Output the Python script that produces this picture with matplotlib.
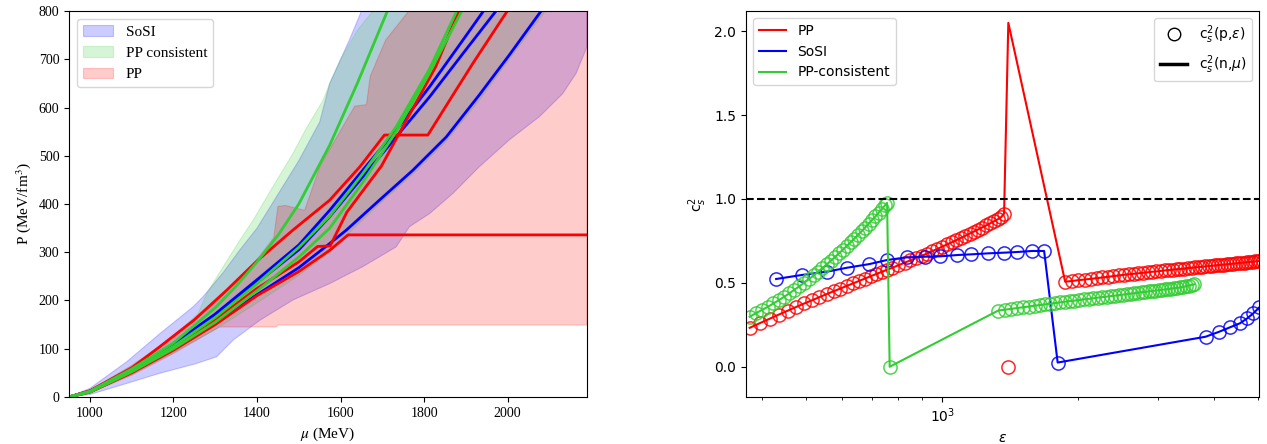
import matplotlib
matplotlib.use("Agg")
import matplotlib.pyplot as plt
import numpy as np

# ---- left panel: P(mu) bands -------------------------------------------
sosi_lo_mu = [950, 1000, 1088, 1167, 1250, 1303, 1343, 1407, 1486, 1574, 1653, 1733, 1765,
              1813, 1869, 1932, 2004, 2076, 2132, 2164, 2190]
sosi_lo_p = [0, 5, 28, 49, 68, 83, 118, 159, 201, 235, 270, 311, 353, 380, 422, 477, 533,
             581, 629, 671, 726]
sosi_hi_mu = [950, 1000, 1088, 1167, 1247, 1271, 1319, 1359, 1400, 1450, 1500, 1550, 1574,
              1621, 1650, 1700, 2190]
sosi_hi_p = [0, 18, 73, 131, 187, 208, 258, 305, 350, 420, 490, 570, 650, 740, 800, 900, 1000]

ppc_lo_mu = [950, 1000, 1100, 1200, 1300, 1400, 1500, 1574, 1614, 1693, 1773, 1853, 1932,
             2004, 2090, 2190]
ppc_lo_p = [0, 9, 47, 92, 140, 195, 252, 300, 335, 400, 462, 530, 615, 700, 800, 920]
ppc_hi_mu = [950, 1000, 1100, 1200, 1259, 1280, 1319, 1359, 1391, 1438, 1486, 1518, 1558,
             1574, 1600, 1640, 1677, 1700, 2190]
ppc_hi_p = [0, 14, 65, 125, 173, 215, 270, 325, 367, 436, 505, 557, 615, 650, 700, 760, 800,
            850, 1000]

pp_lo_mu = [950, 1000, 1100, 1200, 1300, 1311, 1446, 1450, 2190]
pp_lo_p = [0, 9, 45, 90, 140, 145, 145, 149, 149]
pp_hi_mu = [950, 1000, 1100, 1200, 1300, 1400, 1440, 1450, 1468, 1514, 1551, 1597, 1634,
            1662, 1671, 1708, 1763, 1800, 2190]
pp_hi_p = [0, 14, 65, 125, 195, 285, 330, 395, 397, 387, 479, 548, 603, 606, 665, 740, 800,
           850, 1000]

# ---- left panel: individual EoS curves ---------------------------------
sosi_curves = [
    ([950, 1000, 1100, 1200, 1300, 1400, 1500, 1574, 1653, 1733, 1813, 1893, 1942],
     [0, 12, 56, 110, 172, 243, 315, 387, 470, 553, 643, 740, 800]),
    ([950, 1000, 1100, 1200, 1300, 1400, 1500, 1574, 1653, 1733, 1813, 1893, 1972],
     [0, 12, 55, 107, 168, 237, 305, 374, 456, 539, 622, 712, 800]),
    ([950, 1000, 1100, 1200, 1300, 1400, 1500, 1574, 1614, 1693, 1773, 1853, 1932, 2004, 2080],
     [0, 11, 52, 100, 155, 212, 268, 318, 346, 408, 470, 539, 626, 709, 800]),
]
pp_curves = [
    ([950, 1000, 1100, 1167, 1250, 1327, 1400, 1486, 1574, 1646, 1705, 1809, 1861, 1917, 1999],
     [0, 13, 60, 104, 160, 221, 282, 346, 408, 477, 543, 543, 615, 692, 800]),
    ([950, 1000, 1100, 1200, 1300, 1400, 1500, 1545, 1575, 1615, 1698, 1763, 1828, 1883],
     [0, 10, 52, 100, 160, 225, 280, 312, 313, 383, 479, 582, 685, 800]),
    ([950, 1000, 1100, 1200, 1300, 1400, 1500, 1574, 1618, 2190],
     [0, 10, 50, 97, 150, 210, 260, 304, 336, 336]),
]
ppc_curves = [
    ([950, 1000, 1100, 1200, 1300, 1350, 1400, 1450, 1500, 1574, 1640, 1712],
     [0, 12, 58, 112, 185, 230, 280, 335, 400, 522, 650, 800]),
    ([950, 1000, 1100, 1200, 1300, 1400, 1500, 1574, 1653, 1733, 1813, 1878],
     [0, 11, 55, 105, 165, 235, 310, 375, 463, 560, 680, 800]),
    ([950, 1000, 1100, 1200, 1300, 1400, 1500, 1574, 1653, 1733, 1813, 1890],
     [0, 10, 52, 100, 155, 220, 290, 350, 445, 550, 672, 800]),
]

# ---- right panel: speed of sound ---------------------------------------
pp_eps = [375, 395, 415, 435, 455, 475, 495, 515, 535, 555, 575, 595, 615, 635, 655, 675,
          695, 715, 735, 755, 775, 800, 825, 850, 875, 900, 925, 950, 975, 1000, 1025, 1050,
          1075, 1100, 1125, 1150, 1175, 1200, 1225, 1250, 1275, 1300, 1325, 1350, 1370,
          1400,
          1870, 1935, 2000, 2065, 2130, 2195, 2260, 2325, 2390, 2455, 2520, 2585, 2650, 2715,
          2780, 2845, 2910, 2975, 3040, 3105, 3170, 3235, 3300, 3365, 3430, 3495, 3560, 3625,
          3690, 3755, 3820, 3885, 3950, 4015, 4080, 4145, 4210, 4275, 4340, 4405, 4470, 4535,
          4600, 4665, 4730, 4795, 4860, 4925, 4990, 5055, 5120]
pp_cs2 = [0.232, 0.260, 0.286, 0.311, 0.334, 0.356, 0.377, 0.396, 0.415, 0.433, 0.450,
          0.466, 0.482, 0.497, 0.512, 0.526, 0.540, 0.553, 0.566, 0.578, 0.590, 0.605,
          0.620, 0.634, 0.648, 0.661, 0.675, 0.689, 0.702, 0.716, 0.729, 0.742, 0.755,
          0.768, 0.781, 0.794, 0.806, 0.818, 0.830, 0.842, 0.854, 0.866, 0.878, 0.892,
          0.913,
          0.0,
          0.507, 0.511, 0.516, 0.520, 0.524, 0.528, 0.532, 0.536, 0.540, 0.544, 0.548,
          0.551, 0.554, 0.557, 0.560, 0.563, 0.566, 0.568, 0.571, 0.574, 0.576, 0.579,
          0.581, 0.583, 0.585, 0.588, 0.590, 0.592, 0.594, 0.596, 0.598, 0.600, 0.602,
          0.604, 0.606, 0.608, 0.609, 0.611, 0.613, 0.615, 0.616, 0.618, 0.620, 0.621,
          0.623, 0.625, 0.626, 0.628, 0.629, 0.631, 0.632]
pp_peak = 2.05  # c_s^2(n, mu) at the PP transition

sosi_eps = [429, 489, 557, 615, 690, 754, 834, 915, 988, 1080, 1160, 1265, 1370, 1465,
            1580, 1680, 1800, 3825, 4101, 4330, 4556, 4730, 4875, 5027, 5200]
sosi_cs2 = [0.523, 0.547, 0.567, 0.590, 0.612, 0.636, 0.652, 0.656, 0.658, 0.666, 0.670,
            0.676, 0.680, 0.684, 0.690, 0.690, 0.025, 0.179, 0.209, 0.235, 0.259, 0.289,
            0.318, 0.354, 0.390]

ppc_eps = [375, 387, 399, 411, 423, 435, 447, 459, 471, 483, 495, 507, 519, 531, 543, 555,
           567, 579, 591, 603, 615, 627, 639, 651, 663, 675, 687, 699, 711, 723, 735, 747, 755,
           765,
           1330, 1375, 1420, 1465, 1510, 1555, 1600, 1645, 1690, 1735, 1780, 1825, 1870, 1915,
           1960, 2010, 2060, 2110, 2160, 2210, 2260, 2310, 2360, 2410, 2460, 2510, 2560, 2610,
           2660, 2710, 2760, 2810, 2860, 2910, 2960, 3010, 3060, 3110, 3160, 3210, 3260, 3310,
           3360, 3410, 3460, 3510, 3560, 3610]
ppc_cs2 = [0.298, 0.319, 0.338, 0.357, 0.377, 0.397, 0.417, 0.438, 0.459, 0.480, 0.501,
           0.522, 0.544, 0.566, 0.588, 0.610, 0.632, 0.654, 0.676, 0.698, 0.720, 0.742,
           0.764, 0.786, 0.808, 0.830, 0.852, 0.874, 0.896, 0.918, 0.940, 0.962, 0.977,
           0.0,
           0.335, 0.340, 0.345, 0.350, 0.355, 0.359, 0.364, 0.368, 0.372, 0.376, 0.380,
           0.384, 0.388, 0.391, 0.394,
           0.398, 0.402, 0.405, 0.408, 0.412, 0.415, 0.418, 0.421, 0.424, 0.427, 0.430,
           0.433, 0.436, 0.438, 0.441, 0.444, 0.446, 0.449, 0.451, 0.454, 0.456, 0.459,
           0.461, 0.463, 0.466, 0.468, 0.470, 0.473, 0.476, 0.480, 0.484, 0.488, 0.491]

GREEN = "limegreen"
SERIF = "Liberation Serif"


def band(ax, lo_x, lo_y, hi_x, hi_y, color, label):
    xs = np.concatenate([lo_x, hi_x[::-1]])
    ys = np.concatenate([lo_y, hi_y[::-1]])
    ax.fill(xs, ys, color=color, alpha=0.2, lw=0.8, label=label)


fig = plt.figure(figsize=(12.67, 4.44), dpi=100)
ax1 = fig.add_axes([0.0545, 0.106, 0.4088, 0.869])
ax2 = fig.add_axes([0.5888, 0.106, 0.4049, 0.869])

# left
band(ax1, sosi_lo_mu, sosi_lo_p, sosi_hi_mu, sosi_hi_p, "blue", "SoSI")
band(ax1, ppc_lo_mu, ppc_lo_p, ppc_hi_mu, ppc_hi_p, GREEN, "PP consistent")
band(ax1, pp_lo_mu, pp_lo_p, pp_hi_mu, pp_hi_p, "red", "PP")
for mu, p in sosi_curves:
    ax1.plot(mu, p, color="blue", lw=2)
for mu, p in pp_curves:
    ax1.plot(mu, p, color="red", lw=2)
for mu, p in ppc_curves:
    ax1.plot(mu, p, color=GREEN, lw=2)

ax1.set_xlim(950, 2190)
ax1.set_ylim(0, 800)
ax1.set_xticks([1000, 1200, 1400, 1600, 1800, 2000])
ax1.tick_params(labelsize=10, labelfontfamily=SERIF)
ax1.set_xlabel(r"$\mu$ (MeV)", fontfamily=SERIF, fontsize=11, math_fontfamily="stix")
ax1.set_ylabel(r"P (MeV/fm$^3$)", fontfamily=SERIF, fontsize=11, math_fontfamily="stix")
ax1.legend(loc="upper left", prop={"family": SERIF, "size": 11})

# right
pp_line = list(pp_cs2)
pp_line[pp_cs2.index(0.0)] = pp_peak
series = [
    (pp_eps, pp_cs2, pp_line, "red", "PP"),
    (sosi_eps, sosi_cs2, sosi_cs2, "blue", "SoSI"),
    (ppc_eps, ppc_cs2, ppc_cs2, GREEN, "PP-consistent"),
]
line_handles = []
for eps, circ, line, col, lab in series:
    h, = ax2.plot(eps, line, color=col, lw=1.5, label=lab)
    line_handles.append(h)
    ax2.plot(eps, circ, "o", mfc="none", mec=col, ms=9.5, mew=1.1, alpha=0.85)

ax2.axhline(1.0, color="black", ls="--", lw=1.5)
ax2.set_xscale("log")
ax2.set_xlim(368, 5020)
ax2.set_ylim(-0.18, 2.12)
ax2.set_yticks([0.0, 0.5, 1.0, 1.5, 2.0])
ax2.xaxis.set_minor_formatter(matplotlib.ticker.NullFormatter())
ax2.set_xlabel(r"$\varepsilon$")
ax2.set_ylabel(r"c$_s^2$")

leg1 = ax2.legend(handles=line_handles, loc="upper left")
ax2.add_artist(leg1)
circ_h, = ax2.plot([], [], "o", mfc="none", mec="black", ms=9, ls="none")
line_h, = ax2.plot([], [], color="black", lw=2.5)
ax2.legend([circ_h, line_h], [r"c$_s^2$(p,$\varepsilon$)", r"c$_s^2$(n,$\mu$)"],
           loc="upper right")

fig.savefig("out.png", dpi=100)
